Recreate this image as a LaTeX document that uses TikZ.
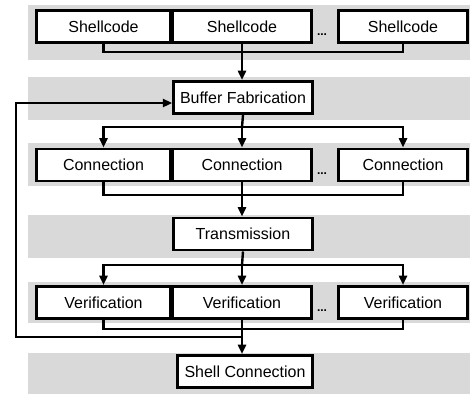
\documentclass[tikz,border=0pt]{standalone}
\usepackage{fontspec}
\setmainfont{Liberation Sans}
\usetikzlibrary{arrows.meta, positioning}

\begin{document}
\begin{tikzpicture}[x=0.75pt, y=-0.75pt,
    band/.style={fill=gray!30, draw=none},
    box/.style={draw, line width=2.2pt, fill=white, minimum height=24pt,
      inner sep=0pt, font=\fontsize{12}{14}\selectfont},
    link/.style={line width=1.8pt},
    flow/.style={line width=1.8pt, -{Triangle[length=7pt, width=6pt]}},
    gap/.style={font=\bfseries\small, inner sep=0pt}]
  \useasboundingbox (0,0) rectangle (470,394);
  \fill[white] (0,0) rectangle (470,394);
  \fill[band] (28,5) rectangle (470,60);
  \fill[band] (28,77) rectangle (470,120);
  \fill[band] (28,143) rectangle (470,186);
  \fill[band] (28,215) rectangle (470,258);
  \fill[band] (28,282) rectangle (470,323);
  \fill[band] (28,353) rectangle (470,394);

  \node[box, minimum width=101pt] (s1) at (103.5,26.5) {Shellcode};
  \node[box, minimum width=104pt] (s2) at (242,26.5) {Shellcode};
  \node[box, minimum width=97pt] (s3) at (403,26.5) {Shellcode};
  \node[gap] (d1) at (322,35) {...};
  \node[box, minimum width=104pt] (buf) at (243,97.5) {Buffer Fabrication};
  \node[box, minimum width=101pt] (c1) at (103.5,165) {Connection};
  \node[box, minimum width=104pt] (c2) at (242,165) {Connection};
  \node[box, minimum width=97pt] (c3) at (403,165) {Connection};
  \node[gap] (d2) at (322,174) {...};
  \node[box, minimum width=104pt] (trans) at (243,234) {Transmission};
  \node[box, minimum width=101pt] (v1) at (103.5,302.5) {Verification};
  \node[box, minimum width=104pt] (v2) at (242,302.5) {Verification};
  \node[box, minimum width=97pt] (v3) at (403,302.5) {Verification};
  \node[gap] (d3) at (322,311) {...};
  \node[box, minimum width=101pt] (shell) at (245,371.5) {Shell Connection};

  \coordinate (m1) at (242,52);
  \coordinate (b1) at (242,127);
  \coordinate (m2) at (242,195);
  \coordinate (b2) at (242,265);
  \coordinate (m3) at (242,329);
  \coordinate (f1) at (242,337);
  \coordinate (f2) at (16,103);

  \draw[link] (s1.south) |- (m1) -| (s3.south);
  \draw[flow] (s2.south) -- (s2.south |- buf.north);
  \draw[link] (buf.south) -- (b1);
  \draw[flow] (b1) -| (c1.north);
  \draw[flow] (b1) -| (c3.north);
  \draw[flow] (b1) -- (c2.north);
  \draw[link] (c1.south) |- (m2) -| (c3.south);
  \draw[flow] (c2.south) -- (c2.south |- trans.north);
  \draw[link] (trans.south) -- (b2);
  \draw[flow] (b2) -| (v1.north);
  \draw[flow] (b2) -| (v3.north);
  \draw[flow] (b2) -- (v2.north);
  \draw[link] (v1.south) |- (m3) -| (v3.south);
  \draw[flow] (v2.south) -- (v2.south |- shell.north);
  \draw[flow] (f1) -| (f2) -- (f2 -| buf.west);
\end{tikzpicture}
\end{document}
